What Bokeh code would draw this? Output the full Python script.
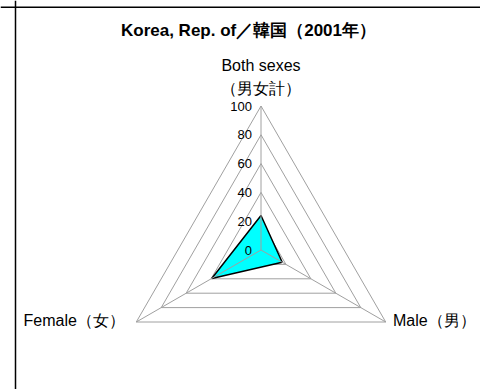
import math
from bokeh.plotting import figure
from bokeh.models import Range1d, Span
from bokeh.core.properties import value
from bokeh.embed import file_html
from bokeh.resources import INLINE

# ---- data ----
title = "Korea, Rep. of／韓国（2001年）"
categories = ["Both sexes\n（男女計）", "Male（男）", "Female（女）"]
values = [24, 17, 39.5]
tick_values = [0, 20, 40, 60, 80, 100]
tick_labels = ["0", "20", "40", "60", "80", "100"]

# ---- layout (page pixels) ----
CX, CY = 260.5, 249.5      # radar centre on page
S = 1.44                   # px per value unit
OX, OY = 0, 0              # page offset of the figure
W, H = 480, 389

def X(px):
    return (px - CX) / S

def Y(py):
    return (CY - py) / S

angles = [math.radians(90), math.radians(-30), math.radians(210)]

p = figure(width=W, height=H, output_backend="svg", toolbar_location=None,
           x_range=Range1d(X(OX), X(OX + W)), y_range=Range1d(Y(OY + H), Y(OY)),
           min_border=0, outline_line_color=None)
p.axis.visible = False
p.grid.visible = False
p.background_fill_color = "white"
p.border_fill_color = "white"

GRID = "#a0a0a0"
# rings
ring_xs, ring_ys = [], []
for t in tick_values[1:]:
    ring_xs.append([t * math.cos(a) for a in angles] + [t * math.cos(angles[0])])
    ring_ys.append([t * math.sin(a) for a in angles] + [t * math.sin(angles[0])])
p.multi_line(ring_xs, ring_ys, line_color=GRID, line_width=1)

# data polygon
px_ = [v * math.cos(a) for v, a in zip(values, angles)]
py_ = [v * math.sin(a) for v, a in zip(values, angles)]
p.patch(px_, py_, fill_color="#00FFFF", line_color="black", line_width=1.5)

# spokes
top = tick_values[-1]
p.multi_line([[0, top * math.cos(a)] for a in angles],
             [[0, top * math.sin(a)] for a in angles],
             line_color=GRID, line_width=1)

FONT = value("Liberation Sans")
# tick labels
p.text(x=[0] * len(tick_values), y=tick_values, text=tick_labels,
       x_offset=-9, text_align="right", text_baseline="middle",
       text_font=FONT, text_font_size="13px", text_color="black")

# category labels
both_l1, both_l2 = categories[0].split("\n")
p.text(x=[0, 0], y=[Y(64.5), Y(87.5)], text=[both_l1, both_l2],
       text_align="center", text_baseline="alphabetic",
       text_font=FONT, text_font_size="16px", text_color="black")
p.text(x=[X(392.5)], y=[Y(320)], text=[categories[1]],
       text_align="left", text_baseline="alphabetic",
       text_font=FONT, text_font_size="16px", text_color="black")
p.text(x=[X(23)], y=[Y(320)], text=[categories[2]],
       text_align="left", text_baseline="alphabetic",
       text_font=FONT, text_font_size="16px", text_color="black")

# title
p.text(x=[X(248)], y=[Y(29.5)], text=[title],
       text_align="center", text_baseline="alphabetic",
       text_font=FONT, text_font_size="17px", text_font_style="bold",
       text_color="black")

# chart-area border (left and top edges visible)
p.add_layout(Span(location=X(15), dimension="height", line_color="black", line_width=1.5))
p.add_layout(Span(location=Y(6.8), dimension="width", line_color="black", line_width=1.5))

open("out.html", "w").write(file_html(p, INLINE))
